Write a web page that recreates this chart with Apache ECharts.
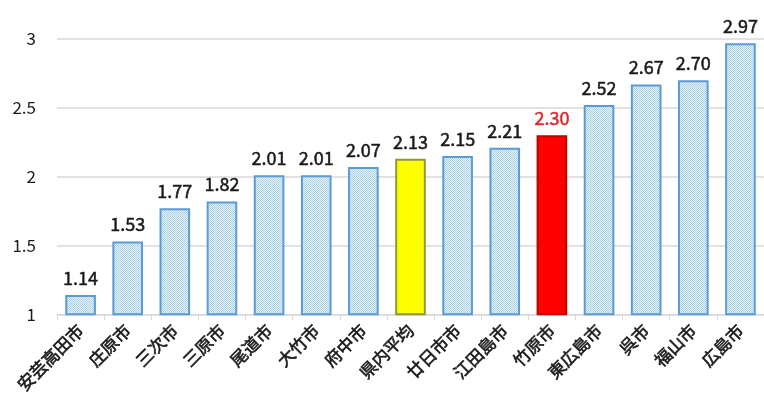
<!DOCTYPE html>
<html>
<head>
<meta charset="utf-8">
<script src="https://cdn.jsdelivr.net/npm/echarts@6/dist/echarts.min.js"></script>
<style>
html,body{margin:0;padding:0;background:#fff;}
#chart{width:764px;height:396px;}
</style>
</head>
<body>
<div id="chart"></div>
<script>
// Cities ordered by value, with the prefecture average in the middle
const categories = ['安芸高田市','庄原市','三次市','三原市','尾道市','大竹市','府中市','県内平均','廿日市市','江田島市','竹原市','東広島市','呉市','福山市','広島市'];
const values = [1.14, 1.53, 1.77, 1.82, 2.01, 2.01, 2.07, 2.13, 2.15, 2.21, 2.30, 2.52, 2.67, 2.70, 2.97];
const yTicks = [1, 1.5, 2, 2.5, 3];
const averageName = '県内平均';
const highlightName = '竹原市';

// dotted light-blue fill texture
function dotPattern() {
  const c = document.createElement('canvas');
  c.width = 2; c.height = 2;
  const g = c.getContext('2d');
  g.fillStyle = '#eaf4f9'; g.fillRect(0, 0, 2, 2);
  g.fillStyle = '#a9cfe2';
  g.fillRect(0, 0, 1, 1); g.fillRect(1, 1, 1, 1);
  return c;
}
const pattern = { image: dotPattern(), repeat: 'repeat' };

const font = '"Noto Sans CJK JP", "Noto Sans", sans-serif';
const ink = '#1a1a1a';
const red = '#e0282e';

const data = categories.map((name, i) => {
  const item = { value: values[i] };
  if (name === averageName) {
    item.itemStyle = { color: '#ffff00', borderColor: '#8c9a3a' };
  } else if (name === highlightName) {
    item.itemStyle = { color: '#ff0000', borderColor: '#c00000' };
    item.label = { color: red, textBorderColor: red };
  }
  return item;
});

const chart = echarts.init(document.getElementById('chart'));
chart.setOption({
  animation: false,
  grid: { left: 57, right: -9, top: 39, bottom: 81, containLabel: false },
  xAxis: {
    type: 'category',
    data: categories,
    axisLine: { lineStyle: { color: '#d9d9d9' } },
    axisTick: { show: true, length: 6, lineStyle: { color: '#d9d9d9' } },
    axisLabel: {
      interval: 0, rotate: 45, margin: 13,
      fontFamily: font, fontSize: 17, color: ink,
      textBorderColor: ink, textBorderWidth: 0.6
    }
  },
  yAxis: {
    type: 'value',
    min: yTicks[0], max: yTicks[yTicks.length - 1], interval: 0.5,
    axisLine: { show: false },
    axisTick: { show: false },
    splitLine: { lineStyle: { color: '#d9d9d9', width: 1.5 } },
    axisLabel: {
      margin: 21,
      fontFamily: font, fontSize: 17, color: ink,
      formatter: v => String(v)
    }
  },
  series: [{
    type: 'bar',
    data: data,
    barWidth: '65%',
    itemStyle: { color: pattern, borderColor: '#5b9bd5', borderWidth: 2 },
    label: {
      show: true, position: 'top', distance: 8,
      fontFamily: font, fontSize: 18, color: ink,
      textBorderColor: ink, textBorderWidth: 0.5,
      formatter: p => p.value.toFixed(2)
    }
  }]
});
</script>
</body>
</html>
